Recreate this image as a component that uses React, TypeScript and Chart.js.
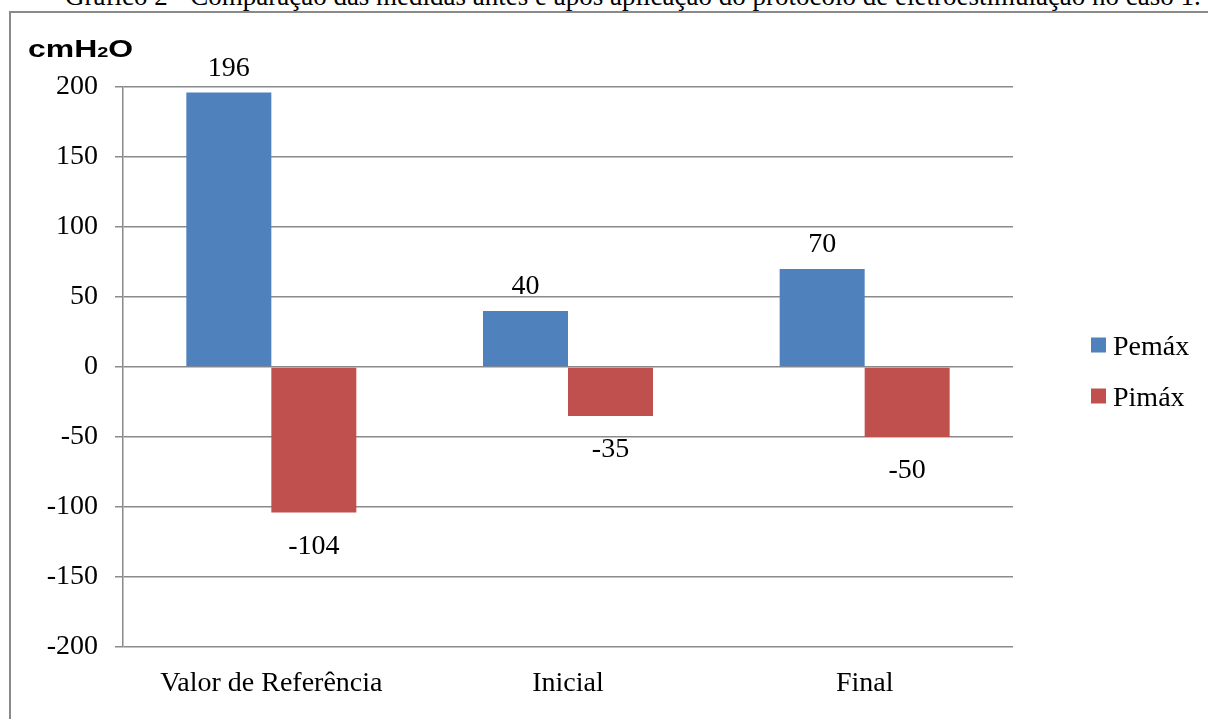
import React, { useEffect, useRef } from "react";
import { Chart, registerables } from "chart.js";

Chart.register(...registerables);

// Measurement groups along the x axis
const categories = ["Valor de Referência", "Inicial", "Final"];
// Maximum expiratory and inspiratory pressures (cmH2O)
const pemax = [196, 40, 70];
const pimax = [-104, -35, -50];
const seriesNames = ["Pemáx", "Pimáx"];
const seriesColors = ["#4F81BD", "#C0504D"];
// Value axis range and step
const yMin = -200;
const yMax = 200;
const yStep = 50;

const titleText =
  "Gráfico 2 - Comparação das medidas antes e após aplicação do protocolo de eletroestimulação no caso 1.";

const SERIF = "'Liberation Serif', 'Times New Roman', serif";
const GRID = "#8a8a8a";

// Writes each bar's value above (positive) or below (negative) the bar
const valueLabels = {
  id: "valueLabels",
  afterDatasetsDraw(chart: any) {
    const ctx = chart.ctx;
    ctx.save();
    ctx.font = `28px ${SERIF}`;
    ctx.fillStyle = "#000";
    ctx.textAlign = "center";
    ctx.textBaseline = "alphabetic";
    chart.data.datasets.forEach((ds: any, i: number) => {
      const meta = chart.getDatasetMeta(i);
      meta.data.forEach((bar: any, j: number) => {
        const v = ds.data[j];
        const top = Math.min(bar.y, bar.base);
        const bottom = Math.max(bar.y, bar.base);
        const y = v >= 0 ? top - 17 : bottom + 41;
        ctx.fillText(String(v), bar.x, y);
      });
    });
    ctx.restore();
  },
};

// Legend on the right: colour square followed by the series name
const sideLegend = {
  id: "sideLegend",
  afterDraw(chart: any) {
    const ctx = chart.ctx;
    ctx.save();
    ctx.font = `28px ${SERIF}`;
    ctx.textAlign = "left";
    ctx.textBaseline = "alphabetic";
    const x0 = 1091;
    const centers = [345, 396];
    chart.data.datasets.forEach((ds: any, i: number) => {
      const cy = centers[i];
      ctx.fillStyle = ds.backgroundColor;
      ctx.fillRect(x0, cy - 7.5, 15, 15);
      ctx.fillStyle = "#000";
      ctx.fillText(ds.label, x0 + 22, cy + 10);
    });
    ctx.restore();
  },
};

export default function App() {
  const canvasRef = useRef<HTMLCanvasElement | null>(null);

  useEffect(() => {
    const canvas = canvasRef.current;
    if (!canvas) return;
    const chart = new Chart(canvas, {
      type: "bar",
      data: {
        labels: categories,
        datasets: [
          {
            label: seriesNames[0],
            data: pemax,
            backgroundColor: seriesColors[0],
            borderWidth: 0,
          },
          {
            label: seriesNames[1],
            data: pimax,
            backgroundColor: seriesColors[1],
            borderWidth: 0,
          },
        ],
      },
      options: {
        animation: false,
        responsive: false,
        maintainAspectRatio: false,
        events: [],
        layout: { padding: { left: 0, top: 87, right: 195, bottom: 0 } },
        datasets: {
          bar: { categoryPercentage: 0.573, barPercentage: 1 },
        },
        plugins: {
          legend: { display: false },
          tooltip: { enabled: false },
          title: { display: false },
        },
        scales: {
          x: {
            grid: { display: false, drawTicks: false },
            border: { display: false },
            ticks: {
              color: "#000",
              font: { family: SERIF, size: 28 },
              padding: 20,
              maxRotation: 0,
            },
            afterFit(scale: any) {
              scale.height = 72;
            },
          },
          y: {
            min: yMin,
            max: yMax,
            grid: {
              color: GRID,
              lineWidth: 1.5,
              drawTicks: true,
              tickLength: 8,
              tickColor: GRID,
            },
            border: { display: true, color: GRID, width: 1.5 },
            ticks: {
              stepSize: yStep,
              color: "#000",
              font: { family: SERIF, size: 28 },
              padding: 17,
            },
            afterFit(scale: any) {
              scale.width = 123;
            },
          },
        },
      },
      plugins: [valueLabels, sideLegend],
    });
    return () => chart.destroy();
  }, []);

  return (
    <div
      style={{
        position: "fixed",
        left: 0,
        top: 0,
        width: 1208,
        height: 719,
        overflow: "hidden",
        background: "#fff",
      }}
    >
      <div
        style={{
          position: "absolute",
          left: 9,
          top: 11,
          width: 1400,
          height: 900,
          border: "2px solid #8a8a8a",
        }}
      />
      <div
        style={{
          position: "absolute",
          left: 65,
          top: -17,
          whiteSpace: "nowrap",
          fontFamily: SERIF,
          fontSize: 27,
          lineHeight: "27px",
          color: "#000",
        }}
      >
        {titleText}
      </div>
      <canvas
        ref={canvasRef}
        width={1208}
        height={719}
        style={{ position: "absolute", left: 0, top: 0, width: 1208, height: 719 }}
      />
      <div
        style={{
          position: "absolute",
          left: 28,
          top: 37,
          fontFamily: "'Liberation Sans', Arial, sans-serif",
          fontWeight: "bold",
          fontSize: 24,
          lineHeight: "24px",
          color: "#000",
          transform: "scaleX(1.33)",
          transformOrigin: "left top",
          whiteSpace: "nowrap",
        }}
      >
        cmH<span style={{ fontSize: 15 }}>2</span>O
      </div>
    </div>
  );
}
